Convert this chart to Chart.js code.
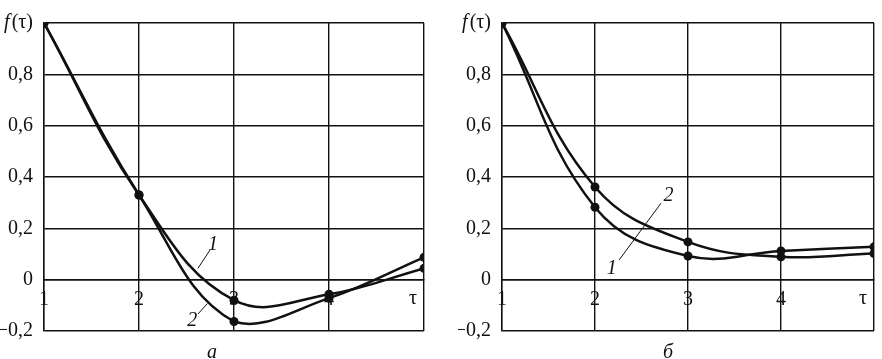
<!DOCTYPE html>
<html lang="ru">
  <head>
    <meta charset="UTF-8" />
    <title>f(τ)</title>
    <script src="https://cdn.jsdelivr.net/npm/chart.js@4.4.1/dist/chart.umd.min.js"></script>
    <style>
      html, body { margin: 0; padding: 0; background: #fff; overflow: hidden; }
      .panel { position: absolute; top: 0; width: 441px; height: 359px; }
    </style>
  </head>
  <body>
    <div class="panel" style="left: 0"><canvas id="chartA"></canvas></div>
    <div class="panel" style="left: 441px"><canvas id="chartB"></canvas></div>
    <script>
      // данные
      const tau = [1, 2, 3, 4, 5];
      const yTicks = [-0.2, 0, 0.2, 0.4, 0.6, 0.8, 1];

      const curveA1 = [1, 0.33, -0.08, -0.057, 0.044];
      const curveA2 = [1, 0.33, -0.163, -0.072, 0.087];

      const curveB1 = [1, 0.282, 0.092, 0.112, 0.128];
      const curveB2 = [1, 0.361, 0.147, 0.089, 0.102];

      const ink = "#111";
      const serif = "'Liberation Serif', 'DejaVu Serif', serif";
      const fs = 20;

      Chart.defaults.font.family = serif;
      Chart.defaults.font.size = fs;
      Chart.defaults.color = ink;

      function toPoints(ys) {
        return tau.map((t, i) => ({ x: t, y: ys[i] }));
      }

      function fmt(v) {
        if (Math.abs(v) < 1e-9) return "0";
        if (Math.abs(v - 1) < 1e-9) return ""; // f(τ) рисуется отдельно
        let s = Math.abs(v).toFixed(1).replace(".", ",");
        return v < 0 ? "\u2212" + s : s;
      }

      // подписи кривых, τ и f(τ)
      const notesPlugin = {
        id: "notes",
        afterDatasetsDraw(chart, args, opts) {
          const ctx = chart.ctx;
          const xs = chart.scales.x;
          const ys = chart.scales.y;
          const area = chart.chartArea;
          ctx.save();
          ctx.fillStyle = ink;
          ctx.strokeStyle = ink;
          ctx.textBaseline = "middle";

          // f(τ) на уровне 1
          const yTop = ys.getPixelForValue(1);
          ctx.textAlign = "right";
          ctx.font = fs + "px " + serif;
          const right = area.left - 11;
          ctx.fillText("(τ)", right, yTop);
          const w = ctx.measureText("(τ)").width;
          ctx.font = "italic " + fs + "px " + serif;
          ctx.fillText("f", right - w - 2, yTop);

          // τ у конца оси
          ctx.font = fs + "px " + serif;
          ctx.textAlign = "center";
          ctx.fillText("τ", xs.getPixelForValue(5) - 11, ys.getPixelForValue(0) + 19);

          // выноски
          ctx.lineWidth = 1;
          (opts.leaders || []).forEach((l) => {
            ctx.beginPath();
            ctx.moveTo(xs.getPixelForValue(l[0]), ys.getPixelForValue(l[1]));
            ctx.lineTo(xs.getPixelForValue(l[2]), ys.getPixelForValue(l[3]));
            ctx.stroke();
          });
          ctx.font = "italic " + fs + "px " + serif;
          (opts.labels || []).forEach((l) => {
            ctx.fillText(l.text, xs.getPixelForValue(l.x), ys.getPixelForValue(l.y));
          });
          ctx.restore();
        },
      };

      function makeChart(id, c1, c2, letter, pad, notes) {
        const ds = (ys) => ({
          data: toPoints(ys),
          borderColor: ink,
          backgroundColor: ink,
          borderWidth: 2.5,
          pointRadius: 4.5,
          pointBackgroundColor: ink,
          pointBorderWidth: 0,
          tension: 0.4,
        });
        return new Chart(document.getElementById(id), {
          type: "line",
          data: { datasets: [ds(c1), ds(c2)] },
          plugins: [notesPlugin],
          options: {
            responsive: true,
            maintainAspectRatio: false,
            animation: false,
            layout: { padding: pad, autoPadding: false },
            plugins: {
              legend: { display: false },
              tooltip: { enabled: false },
              title: {
                display: true,
                text: letter,
                position: "bottom",
                color: ink,
                font: { family: serif, size: fs, style: "italic", weight: "normal", lineHeight: 1 },
                padding: { top: 12, bottom: -4 },
              },
              notes: notes,
            },
            scales: {
              x: {
                type: "linear",
                position: { y: 0 },
                min: 1,
                max: 5,
                afterBuildTicks: (s) => {
                  s.ticks = tau.map((v) => ({ value: v }));
                },
                ticks: {
                  padding: 8,
                  maxRotation: 0,
                  callback: (v) => (v === 5 ? "" : String(v)),
                },
                grid: { color: ink, lineWidth: 1.4, drawTicks: false },
                border: { color: ink, width: 1.4 },
              },
              y: {
                type: "linear",
                min: -0.2,
                max: 1,
                afterBuildTicks: (s) => {
                  s.ticks = yTicks.map((v) => ({ value: v }));
                },
                afterFit: (s) => {
                  s.width = 44;
                },
                ticks: { padding: 11, callback: (v) => fmt(v) },
                grid: { color: ink, lineWidth: 1.4, drawTicks: false },
                border: { color: ink, width: 1.4 },
              },
            },
          },
        });
      }

      makeChart("chartA", curveA1, curveA2, "а", { left: 0, right: 17, top: 6, bottom: 0 }, {
        labels: [
          { text: "1", x: 2.78, y: 0.136 },
          { text: "2", x: 2.56, y: -0.16 },
        ],
        leaders: [
          [2.62, 0.044, 2.75, 0.117],
          [2.62, -0.134, 2.72, -0.093],
        ],
      });

      makeChart("chartB", curveB1, curveB2, "б", { left: 17, right: 4, top: 6, bottom: 0 }, {
        labels: [
          { text: "2", x: 2.79, y: 0.328 },
          { text: "1", x: 2.18, y: 0.044 },
        ],
        leaders: [[2.71, 0.298, 2.26, 0.077]],
      });
    </script>
  </body>
</html>
